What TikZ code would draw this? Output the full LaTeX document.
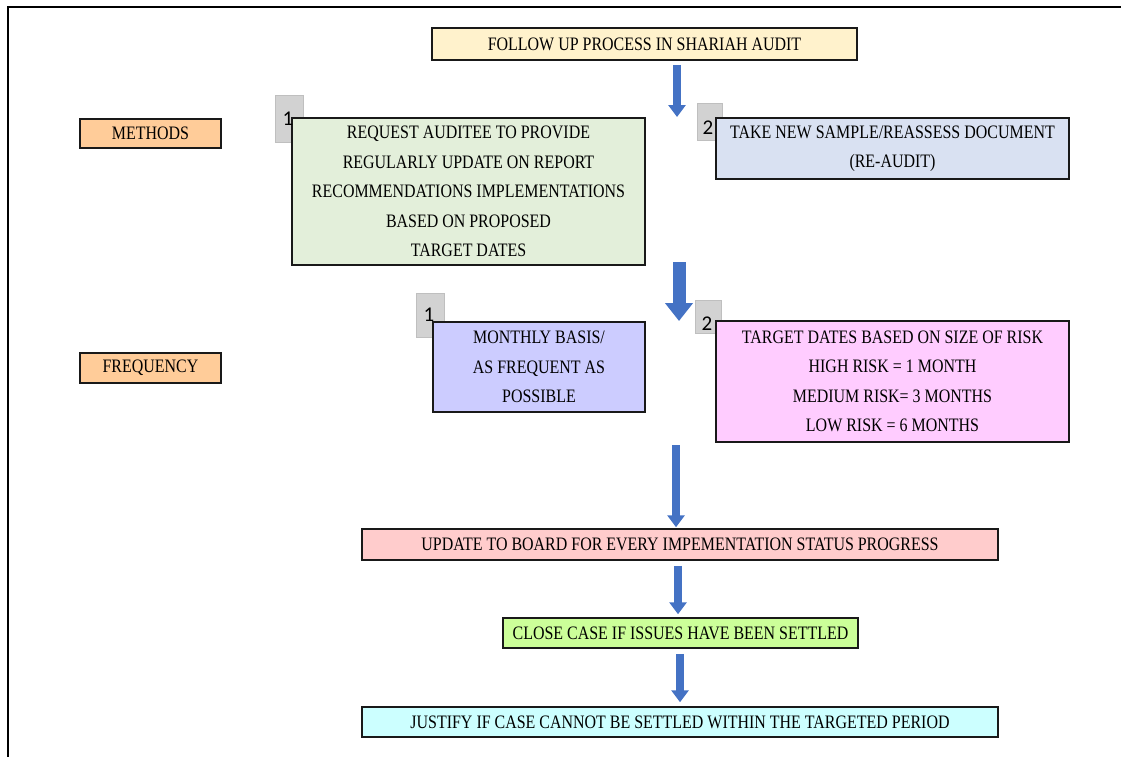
\documentclass[tikz,border=0pt]{standalone}
\usepackage{fontspec}
\setmainfont{Liberation Serif}[FakeStretch=0.84]
\newfontfamily\numfont{Carlito}
\usetikzlibrary{arrows.meta,positioning}
\definecolor{titlefill}{HTML}{FFF2CC}
\definecolor{headfill}{HTML}{FFCC99}
\definecolor{methfill}{HTML}{E3EFDA}
\definecolor{auditfill}{HTML}{D9E1F2}
\definecolor{monthfill}{HTML}{CCCCFF}
\definecolor{riskfill}{HTML}{FFCCFF}
\definecolor{updfill}{HTML}{FFCCCC}
\definecolor{closefill}{HTML}{CCFF99}
\definecolor{justfill}{HTML}{CCFFFF}
\definecolor{arrowblue}{HTML}{4472C4}
\tikzset{
  box/.style={draw=black!90, line width=1.5pt, inner sep=0pt, align=center,
    font=\fontsize{19}{29.5}\selectfont},
  numbox/.style={fill=gray!35, draw=gray!50, line width=0.8pt, inner sep=0pt},
  numtext/.style={font=\numfont\fontsize{21}{21}\selectfont, inner sep=0pt},
  flow/.style={draw=arrowblue, line width=8pt, -{Triangle[width=17pt,length=12pt]}},
  bigflow/.style={draw=arrowblue, line width=13pt, -{Triangle[width=27pt,length=18pt]}}
}

\begin{document}
\begin{tikzpicture}[x=1pt,y=-1pt]
  \useasboundingbox (0,0) rectangle (1121,756);
  \draw[line width=2.5pt] (8,780) -- (8,7) -- (1140,7);

  % heading
  \node[box, fill=titlefill, minimum width=425pt, minimum height=32pt] (title) at (644.5,44)
    {FOLLOW UP PROCESS IN SHARIAH AUDIT};
  \node[box, fill=headfill, minimum width=141pt, minimum height=29pt] (methods) at (150.5,133.5) {METHODS};
  \node[box, fill=headfill, minimum width=141pt, minimum height=30pt] (frequency) at (150.5,368) {FREQUENCY};

  % methods row
  \node[numbox, minimum width=28pt, minimum height=47pt] (num1a) at (289,118.5) {};
  \node[numbox, minimum width=25pt, minimum height=37pt] (num2a) at (709.5,121.5) {};
  \node[box, fill=methfill, minimum width=353pt, minimum height=147pt] (request) at (468.5,191.5)
    {REQUEST AUDITEE TO PROVIDE\\REGULARLY UPDATE ON REPORT\\RECOMMENDATIONS IMPLEMENTATIONS\\BASED ON PROPOSED\\TARGET DATES};
  \node[box, fill=auditfill, minimum width=353pt, minimum height=61pt] (reaudit) at (892.5,148.5)
    {TAKE NEW SAMPLE/REASSESS DOCUMENT\\(RE-AUDIT)};
  \node[numtext] at (288,119) {1};
  \node[numtext] at (708,128) {2};

  % frequency row
  \node[numbox, minimum width=28pt, minimum height=44pt] (num1b) at (430,315) {};
  \node[numbox, minimum width=26pt, minimum height=33pt] (num2b) at (708,316.5) {};
  \node[box, fill=monthfill, minimum width=212pt, minimum height=90pt] (monthly) at (539,367)
    {MONTHLY BASIS/\\AS FREQUENT AS\\POSSIBLE};
  \node[box, fill=riskfill, minimum width=353pt, minimum height=121pt] (risk) at (892.5,381.5)
    {TARGET DATES BASED ON SIZE OF RISK\\HIGH RISK = 1 MONTH\\MEDIUM RISK= 3 MONTHS\\LOW RISK = 6 MONTHS};
  \node[numtext] at (429,315) {1};
  \node[numtext] at (707,324) {2};

  % outcome
  \node[box, fill=updfill, minimum width=636pt, minimum height=31pt] (update) at (680,544.5)
    {UPDATE TO BOARD FOR EVERY IMPEMENTATION STATUS PROGRESS};
  \node[box, fill=closefill, minimum width=355pt, minimum height=30pt] (close) at (680.5,633)
    {CLOSE CASE IF ISSUES HAVE BEEN SETTLED};
  \node[box, fill=justfill, minimum width=636pt, minimum height=30pt] (justify) at (680,722)
    {JUSTIFY IF CASE CANNOT BE SETTLED WITHIN THE TARGETED PERIOD};

  % arrows
  \coordinate (split) at (677,117);
  \coordinate (mid) at (679,262);
  \coordinate (midend) at (679,321);
  \coordinate (down) at (676,445);
  \draw[flow, shorten <=4pt] (title.south -| split) -- (split);
  \draw[bigflow] (mid) -- (midend);
  \draw[flow, shorten >=1pt] (down) -- (down |- update.north);
  \draw[flow, shorten <=5pt, shorten >=3pt] (update.south -| 678,0) -- (close.north -| 678,0);
  \draw[flow, shorten <=5pt, shorten >=4pt] (close.south -| 680,0) -- (justify.north -| 680,0);
\end{tikzpicture}
\end{document}
